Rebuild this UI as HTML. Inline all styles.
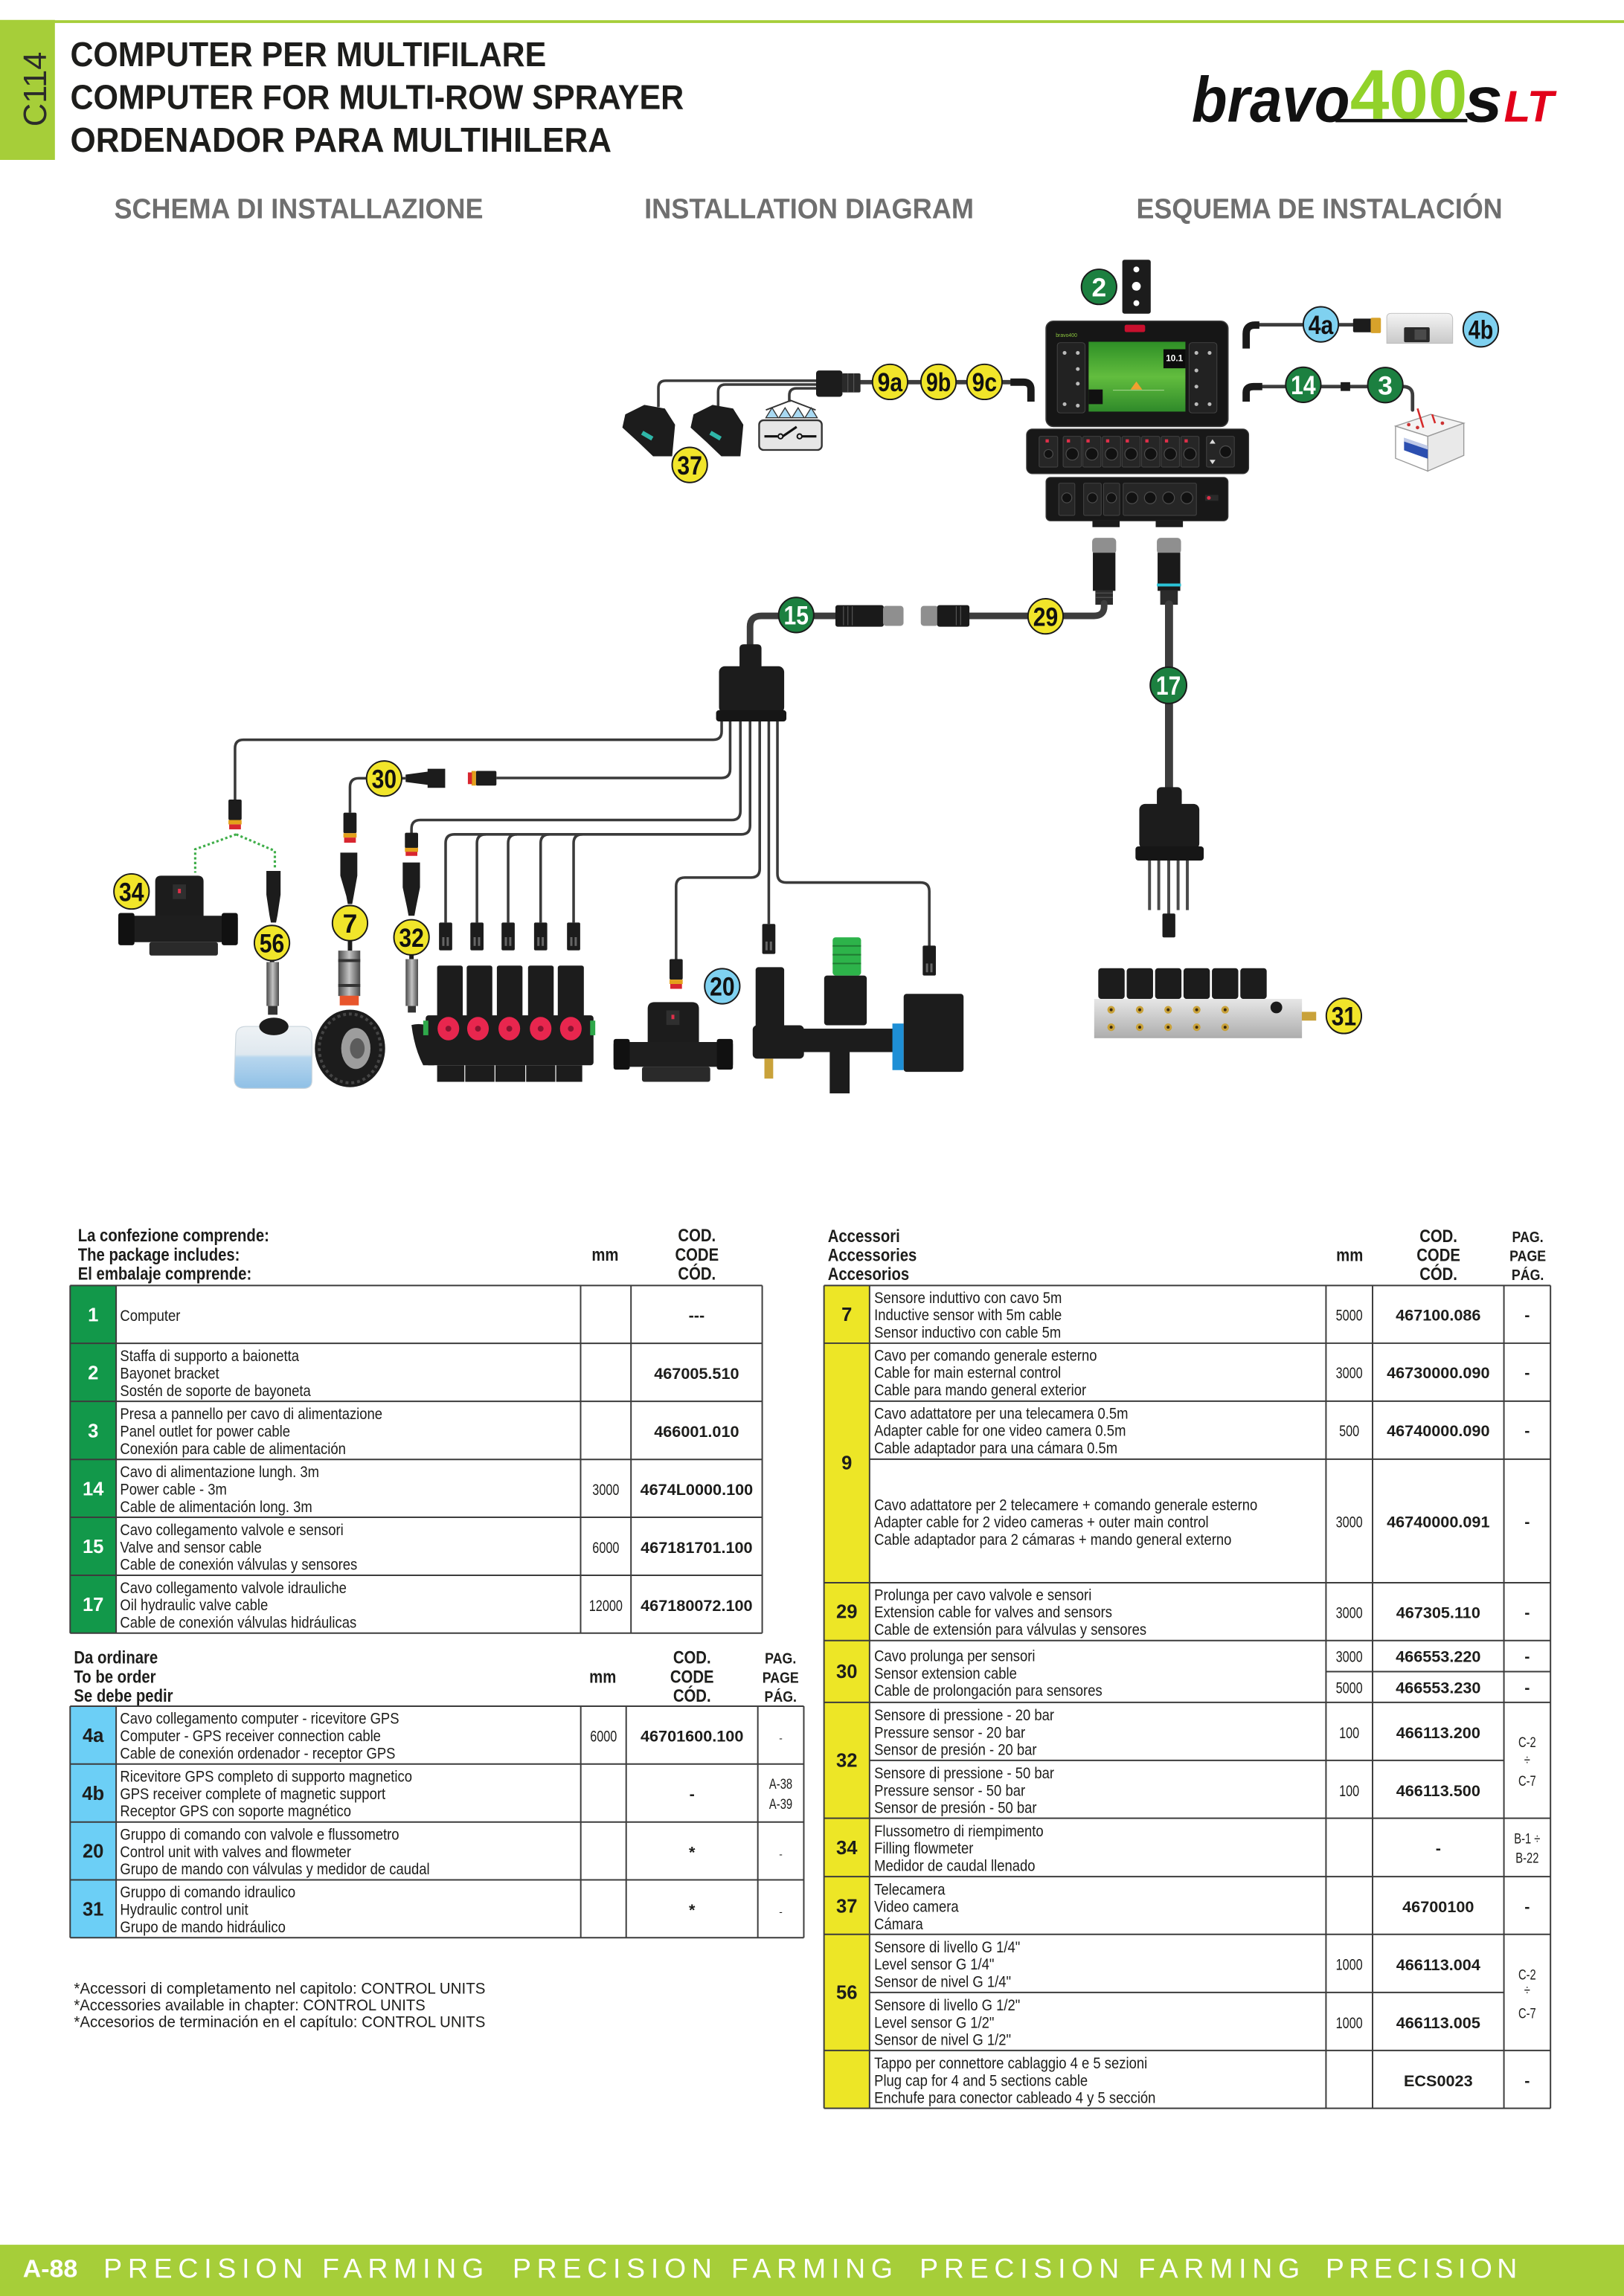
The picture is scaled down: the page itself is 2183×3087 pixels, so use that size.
<!DOCTYPE html>
<html><head><meta charset="utf-8">
<style>
html,body{margin:0;padding:0;background:#fff;}
svg{display:block;}
text{font-family:"Liberation Sans",Arial,sans-serif;}
.b{font-weight:bold;}
.ci{stroke:#1a1a1a;stroke-width:1;}
.y{fill:#f1e52a;}
.g{fill:#1c8040;}
.u{fill:#7fd1f0;}
.ct{font-weight:bold;font-size:18px;text-anchor:middle;}
.cab{fill:none;stroke:#3d3d3d;stroke-linecap:round;}
.w{fill:none;stroke:#3a3a3a;stroke-width:1.8;}
.blk{fill:#1c1c1c;}
.grid line{stroke:#3c3c3c;stroke-width:1;}
</style></head><body>
<svg width="2183" height="3087" viewBox="0 0 1109 1568" preserveAspectRatio="none" xmlns="http://www.w3.org/2000/svg">
<defs>
<linearGradient id="scr" x1="0" y1="0" x2="0" y2="1"><stop offset="0" stop-color="#2e8f26"/><stop offset=".5" stop-color="#62bd3e"/><stop offset="1" stop-color="#2f8a2a"/></linearGradient>
<linearGradient id="alu" x1="0" y1="0" x2="0" y2="1"><stop offset="0" stop-color="#e6e6e6"/><stop offset="1" stop-color="#adadad"/></linearGradient>
<linearGradient id="met" x1="0" y1="0" x2="1" y2="0"><stop offset="0" stop-color="#4a4a4a"/><stop offset=".5" stop-color="#c4c4c4"/><stop offset="1" stop-color="#4a4a4a"/></linearGradient>
<linearGradient id="gps" x1="0" y1="0" x2="0" y2="1"><stop offset="0" stop-color="#f4f4f4"/><stop offset="1" stop-color="#c9c9c9"/></linearGradient>
<linearGradient id="tank" x1="0" y1="0" x2="0" y2="1"><stop offset="0" stop-color="#eef2f5"/><stop offset=".45" stop-color="#dfe8ef"/><stop offset=".5" stop-color="#b7d6ee"/><stop offset="1" stop-color="#8fc0e6"/></linearGradient>
</defs>

<!-- ===== HEADER ===== -->
<rect x="0" y="13.6" width="37.5" height="95.6" fill="#a6ce39"/>
<rect x="37" y="13.8" width="1072" height="1.9" fill="#a6ce39"/>
<text transform="translate(31.6,86.4) rotate(-90)" font-size="22" fill="#2b2b2b" textLength="51" lengthAdjust="spacingAndGlyphs">C114</text>

<g class="b" fill="#1d1d1b" font-size="23.5">
<text x="48" y="45.3" textLength="325" lengthAdjust="spacingAndGlyphs">COMPUTER PER MULTIFILARE</text>
<text x="48" y="74.5" textLength="419" lengthAdjust="spacingAndGlyphs">COMPUTER FOR MULTI-ROW SPRAYER</text>
<text x="48" y="103.6" textLength="369.6" lengthAdjust="spacingAndGlyphs">ORDENADOR PARA MULTIHILERA</text>
</g>

<!-- logo -->
<g>
<text x="813.8" y="83" font-size="44" font-weight="bold" font-style="italic" fill="#111" textLength="108" lengthAdjust="spacingAndGlyphs">bravo</text>
<text x="922" y="81.3" font-size="48" font-weight="bold" fill="#92d22a" textLength="80" lengthAdjust="spacingAndGlyphs">400</text>
<rect x="912" y="81.2" width="90" height="2.3" fill="#111"/>
<text x="1000" y="83" font-size="44" font-weight="bold" font-style="italic" fill="#111" textLength="26" lengthAdjust="spacingAndGlyphs">s</text>
<text x="1027" y="83" font-size="30" font-weight="bold" font-style="italic" fill="#e2001a" textLength="34" lengthAdjust="spacingAndGlyphs">LT</text>
</g>

<g class="b" fill="#6f6f6f" font-size="19.5">
<text x="78" y="149" textLength="252" lengthAdjust="spacingAndGlyphs">SCHEMA DI INSTALLAZIONE</text>
<text x="440" y="149" textLength="225" lengthAdjust="spacingAndGlyphs">INSTALLATION DIAGRAM</text>
<text x="776" y="149" textLength="250" lengthAdjust="spacingAndGlyphs">ESQUEMA DE INSTALACIÓN</text>
</g>

<!-- ===== DIAGRAM ===== -->
<!-- bracket 2 -->
<rect x="766.4" y="177.4" width="19.4" height="36.8" rx="1.5" class="blk"/>
<circle cx="776" cy="184" r="2" fill="#fff"/><circle cx="776" cy="195.5" r="3" fill="#fff"/><circle cx="776" cy="207" r="2" fill="#fff"/>

<!-- display -->
<rect x="714.3" y="219.3" width="124.3" height="72" rx="5" fill="#161616" stroke="#3a3a3a" stroke-width=".8"/>
<rect x="743.4" y="233.4" width="66.1" height="47.7" fill="url(#scr)"/>
<rect x="768" y="221.8" width="14" height="5" rx="1.2" fill="#c8102e"/>
<text x="721" y="230" font-size="3.5" fill="#8cc63f">bravo400</text>
<rect x="722" y="234" width="19" height="48" rx="2" fill="#222" stroke="#444" stroke-width=".5"/>
<rect x="812" y="234" width="19" height="48" rx="2" fill="#222" stroke="#444" stroke-width=".5"/>
<g fill="#bbb"><circle cx="727" cy="241" r="1.3"/><circle cx="736" cy="241" r="1.3"/><circle cx="736" cy="252" r="1.3"/><circle cx="736" cy="262" r="1.3"/><circle cx="727" cy="276" r="1.3"/><circle cx="736" cy="277" r="1.3"/><circle cx="817" cy="241" r="1.3"/><circle cx="826" cy="241" r="1.3"/><circle cx="817" cy="253" r="1.3"/><circle cx="817" cy="264" r="1.3"/><circle cx="826" cy="276" r="1.3"/><circle cx="817" cy="276" r="1.3"/></g>
<rect x="794.5" y="238.5" width="15" height="13" fill="#0c0c0c"/>
<text x="802" y="246.5" font-size="6" fill="#fff" text-anchor="middle" font-weight="bold">10.1</text>
<rect x="743.4" y="266" width="9.6" height="10" fill="#111"/>
<polygon points="772,266 776,260.5 780,266" fill="#f0a030"/>
<line x1="760" y1="266.5" x2="795" y2="266.5" stroke="#b8e0a0" stroke-width=".4"/>
<!-- switch box -->
<rect x="701" y="293" width="151.7" height="30.5" rx="4" fill="#181818" stroke="#3a3a3a" stroke-width=".6"/>
<g fill="#262626" stroke="#454545" stroke-width=".5">
<rect x="709.6" y="298" width="12.7" height="21" rx="1"/>
<rect x="726" y="298" width="12.4" height="21" rx="1"/><rect x="739.4" y="298" width="12.4" height="21" rx="1"/><rect x="752.8" y="298" width="12.4" height="21" rx="1"/><rect x="766.2" y="298" width="12.4" height="21" rx="1"/><rect x="779.6" y="298" width="12.4" height="21" rx="1"/><rect x="793" y="298" width="12.4" height="21" rx="1"/><rect x="806.4" y="298" width="12.4" height="21" rx="1"/>
<rect x="823.9" y="298" width="19" height="21" rx="1"/>
</g>
<g fill="#e0304a"><rect x="714" y="300" width="2.2" height="2.2"/><rect x="728.5" y="300" width="2.2" height="2.2"/><rect x="741.9" y="300" width="2.2" height="2.2"/><rect x="755.3" y="300" width="2.2" height="2.2"/><rect x="768.7" y="300" width="2.2" height="2.2"/><rect x="782.1" y="300" width="2.2" height="2.2"/><rect x="795.5" y="300" width="2.2" height="2.2"/><rect x="808.9" y="300" width="2.2" height="2.2"/></g>
<g fill="#111" stroke="#4d4d4d" stroke-width=".6"><circle cx="716" cy="310" r="3"/><circle cx="732.2" cy="310" r="4.2"/><circle cx="745.6" cy="310" r="4.2"/><circle cx="759" cy="310" r="4.2"/><circle cx="772.4" cy="310" r="4.2"/><circle cx="785.8" cy="310" r="4.2"/><circle cx="799.2" cy="310" r="4.2"/><circle cx="812.6" cy="310" r="4.2"/><circle cx="837" cy="308.5" r="4"/></g>
<polygon points="826,303 828,300 830,303" fill="#ddd"/><polygon points="826,314 828,317 830,314" fill="#ddd"/>
<!-- lower box -->
<rect x="714.3" y="326" width="124.3" height="29.7" rx="3" fill="#181818" stroke="#3a3a3a" stroke-width=".6"/>
<g fill="#262626" stroke="#454545" stroke-width=".5"><rect x="723" y="330" width="11" height="22" rx="1"/><rect x="740" y="330" width="12" height="22" rx="1"/><rect x="753.6" y="330" width="11" height="22" rx="1"/><rect x="767" y="330" width="50" height="22" rx="1"/></g>
<g fill="#111" stroke="#4d4d4d" stroke-width=".6"><circle cx="728.5" cy="340" r="3.4"/><circle cx="746" cy="340" r="3.4"/><circle cx="759" cy="340" r="3.4"/><circle cx="773" cy="340" r="4"/><circle cx="785.5" cy="340" r="4"/><circle cx="798" cy="340" r="4"/><circle cx="810.5" cy="340" r="4"/></g>
<rect x="823" y="338" width="9" height="4" fill="#2a2a2a"/><circle cx="825.5" cy="340" r="1.3" fill="#e0304a"/>
<rect x="746" y="355.5" width="18.6" height="4.5" class="blk"/>
<rect x="789.2" y="355.5" width="18.6" height="4.5" class="blk"/>

<!-- connectors under display -->
<rect x="745.8" y="367.3" width="16.4" height="11" rx="2.5" fill="#8f8f8f"/>
<rect x="746.3" y="377.5" width="15.4" height="26" fill="#1a1a1a"/>
<rect x="748" y="403" width="12" height="10" fill="#2b2b2b"/>
<g stroke="#555" stroke-width=".6"><line x1="748" y1="405" x2="760" y2="405"/><line x1="748" y1="408" x2="760" y2="408"/></g>
<rect x="790" y="367.3" width="16.5" height="11" rx="2.5" fill="#8f8f8f"/>
<rect x="790.5" y="377.5" width="15.5" height="26" fill="#1a1a1a"/>
<rect x="790" y="398.5" width="16.5" height="2" fill="#2bc3d6"/>
<rect x="792.3" y="403" width="12" height="10" fill="#2b2b2b"/>

<!-- cable 29 / 15 -->
<path class="cab" stroke-width="4.5" d="M754,412 V414 Q754,420.6 747,420.6 H662"/>
<path class="cab" stroke-width="4.5" d="M571,420.6 H520 Q512.2,420.6 512.2,428 V443"/>
<!-- inline connectors -->
<rect x="628.8" y="413.8" width="12" height="13.6" rx="2" fill="#8f8f8f"/>
<rect x="640" y="413.3" width="22" height="14.7" rx="1.5" fill="#1a1a1a"/>
<g stroke="#555" stroke-width=".6"><line x1="653" y1="414" x2="653" y2="427"/><line x1="656" y1="414" x2="656" y2="427"/></g>
<rect x="570.5" y="413.3" width="33" height="14.7" rx="1.5" fill="#1a1a1a"/>
<g stroke="#555" stroke-width=".6"><line x1="576" y1="414" x2="576" y2="427"/><line x1="579" y1="414" x2="579" y2="427"/><line x1="582" y1="414" x2="582" y2="427"/></g>
<rect x="603" y="413.8" width="14" height="13.6" rx="2" fill="#8f8f8f"/>

<!-- splitter 15 -->
<path d="M505,443 Q505,440 508,440 H517 Q520,440 520,443 V457 H505 Z" class="blk"/>
<rect x="491" y="455" width="44.5" height="32" rx="4" class="blk"/>
<rect x="489" y="485" width="48" height="7.7" rx="2" fill="#161616"/>

<!-- wires from splitter 15 -->
<path class="w" d="M492.8,492.7 V499.5 Q492.8,505.2 487.1,505.2 H166.2 Q160.5,505.2 160.5,510.9 V546"/>
<path class="w" d="M498.6,492.7 V525.3 Q498.6,531.3 492.6,531.3 H339"/>
<path class="w" d="M251,531.5 H245 Q239,531.5 239,537.5 V555"/>
<path class="w" d="M505.6,492.7 V554 Q505.6,560 499.6,560 H287 Q281,560 281,566 V569"/>
<path class="w" d="M512.2,492.7 V563.8 Q512.2,569.8 506.2,569.8 H310.3 Q304.3,569.8 304.3,575.8 V630"/>
<path class="w" d="M331.7,569.8 Q325.7,569.8 325.7,575.8 V630"/>
<path class="w" d="M353,569.8 Q347,569.8 347,575.8 V630"/>
<path class="w" d="M375.2,569.8 Q369.2,569.8 369.2,575.8 V630"/>
<path class="w" d="M397.7,569.8 Q391.7,569.8 391.7,575.8 V630"/>
<path class="w" d="M518.8,492.7 V593.3 Q518.8,599.3 512.8,599.3 H467.7 Q461.7,599.3 461.7,605.3 V655"/>
<path class="w" d="M525,492.7 V631"/>
<path class="w" d="M530.9,492.7 V596.7 Q530.9,602.7 536.9,602.7 H628.6 Q634.6,602.7 634.6,608.7 V646"/>

<!-- small female connectors with band -->
<g>
<rect x="156" y="546" width="9" height="14" rx="1" class="blk"/><rect x="156" y="560" width="9" height="3" fill="#e3a01b"/><rect x="156.5" y="563" width="8" height="3.4" fill="#d8262f"/>
<rect x="234.5" y="555" width="9" height="14" rx="1" class="blk"/><rect x="234.5" y="569" width="9" height="3" fill="#e3a01b"/><rect x="235" y="572" width="8" height="3.5" fill="#d8262f"/>
<rect x="276.5" y="568.7" width="9" height="10.5" rx="1" class="blk"/><rect x="276.5" y="579" width="9" height="2.8" fill="#e3a01b"/><rect x="277" y="581.7" width="8" height="2.8" fill="#d8262f"/>
<rect x="457.2" y="655" width="9" height="14" rx="1" class="blk"/><rect x="457.2" y="669" width="9" height="3" fill="#e3a01b"/><rect x="457.7" y="672" width="8" height="3.3" fill="#d8262f"/>
<!-- 30 connectors -->
<rect x="325" y="526.5" width="14" height="10" rx="1" class="blk"/><rect x="322" y="526.5" width="3" height="10" fill="#e3a01b"/><rect x="319.5" y="527.5" width="2.8" height="8" fill="#d8262f"/>
<polygon points="304,525 292,525 292,527 277,529 277,534 292,536 292,538 304,538" class="blk"/>
<path class="w" d="M273,531.5 H277"/>
</g>
<!-- valve connectors -->
<g class="blk">
<rect x="299.8" y="630" width="9" height="19" rx="1"/><rect x="321.2" y="630" width="9" height="19" rx="1"/><rect x="342.5" y="630" width="9" height="19" rx="1"/><rect x="364.7" y="630" width="9" height="19" rx="1"/><rect x="387.2" y="630" width="9" height="19" rx="1"/>
<rect x="520.5" y="631" width="9" height="20.5" rx="1"/>
<rect x="630.1" y="645.8" width="9" height="20.4" rx="1"/>
</g>
<g fill="#666"><rect x="302" y="640" width="1.5" height="6"/><rect x="305" y="640" width="1.5" height="6"/><rect x="323.4" y="640" width="1.5" height="6"/><rect x="326.4" y="640" width="1.5" height="6"/><rect x="344.7" y="640" width="1.5" height="6"/><rect x="347.7" y="640" width="1.5" height="6"/><rect x="366.9" y="640" width="1.5" height="6"/><rect x="369.9" y="640" width="1.5" height="6"/><rect x="389.4" y="640" width="1.5" height="6"/><rect x="392.4" y="640" width="1.5" height="6"/><rect x="522.7" y="643" width="1.5" height="6"/><rect x="525.7" y="643" width="1.5" height="6"/><rect x="632.3" y="658" width="1.5" height="6"/><rect x="635.3" y="658" width="1.5" height="6"/></g>

<!-- sensor male connectors (tapered) -->
<polygon class="blk" points="232.4,582.3 244,582.3 244,598 241.5,612 240.5,617.4 237.5,617.4 236.5,612 232.4,598"/>
<polygon class="blk" points="275,589 286.8,589 286.8,606 284,620 283,625.4 279,625.4 278,620 275,606"/>
<polygon class="blk" points="181.9,594.8 191.6,594.8 191.6,611 189.5,625 188.5,630 185,630 184,625 181.9,611"/>

<!-- dotted green lines (34 / 56) -->
<path d="M161.3,569.8 L133.3,580 V596 M161.3,569.8 L187.7,581.1 V593.6" fill="none" stroke="#3fae49" stroke-width="1.6" stroke-dasharray="1.6 1.6"/>

<!-- sensor 7 body + wheel -->
<rect x="237.5" y="642" width="3" height="7.5" class="blk"/>
<rect x="231" y="649.2" width="15" height="31" fill="url(#met)"/>
<rect x="231" y="655" width="15" height="2" fill="#333"/><rect x="231" y="672" width="15" height="2" fill="#333"/>
<rect x="232" y="680" width="13" height="6.6" fill="#e8552b"/>
<ellipse cx="239" cy="716" rx="24" ry="26.5" fill="#1c1c1c"/>
<ellipse cx="239" cy="716" rx="21" ry="23.5" fill="none" stroke="#444" stroke-width="2" stroke-dasharray="2 2"/>
<ellipse cx="243" cy="716" rx="10" ry="14" fill="#9d9d9d"/>
<ellipse cx="244" cy="716" rx="5" ry="7" fill="#5c5c5c"/>

<!-- sensor 32 body -->
<rect x="279.5" y="650" width="3" height="6" class="blk"/>
<rect x="277" y="655" width="8.5" height="32" fill="url(#met)"/>
<rect x="278.5" y="687" width="5.5" height="4.5" fill="#333"/>

<!-- sensor 56 + tank -->
<rect x="184.3" y="653" width="3" height="5" class="blk"/>
<rect x="182" y="657" width="8.5" height="30" fill="url(#met)"/>
<rect x="183" y="687" width="6.5" height="6" fill="#333"/>
<path d="M161,708 Q161,701 168,701 H206 Q213,701 213,708 V738 Q213,743.3 207,743.3 H167 Q160,743.3 160,737 Z" fill="url(#tank)" stroke="#c9d4dc" stroke-width=".6"/>
<ellipse cx="187" cy="701" rx="10" ry="6" fill="#1c1c1c"/>

<!-- flowmeter 34 -->
<path d="M106,602 Q106,598 110,598 H135 Q139,598 139,602 V630 H106 Z" class="blk"/>
<rect x="118" y="604" width="9" height="10" fill="#2f2f2f"/><rect x="121.5" y="607" width="2" height="3" fill="#e0304a"/>
<rect x="80.8" y="625.4" width="81.6" height="18" rx="1.5" fill="#1e1e1e"/>
<rect x="80.8" y="623.5" width="11" height="22" rx="1.5" fill="#111"/>
<rect x="151.4" y="623.5" width="11" height="22" rx="1.5" fill="#111"/>
<rect x="102" y="643.4" width="46.8" height="9.2" rx="1.5" fill="#2a2a2a"/>

<!-- valve block (5 sections) -->
<g class="blk">
<rect x="298.5" y="659.4" width="17.5" height="36.3" rx="1.5"/><rect x="318.7" y="659.4" width="17.5" height="36.3" rx="1.5"/><rect x="339.3" y="659.4" width="17.5" height="36.3" rx="1.5"/><rect x="360.6" y="659.4" width="17.5" height="36.3" rx="1.5"/><rect x="380.9" y="659.4" width="17.8" height="36.3" rx="1.5"/>
<rect x="290.7" y="693.4" width="114.6" height="34.1" rx="2"/>
<rect x="298.5" y="727.5" width="99.1" height="11.3"/>
<path d="M281,700 Q288,698 296.5,702 V727.5 H289 Q283,716 281,700 Z"/>
</g>
<g stroke="#fff" stroke-width=".6"><line x1="317.4" y1="727.5" x2="317.4" y2="738.8"/><line x1="338" y1="727.5" x2="338" y2="738.8"/><line x1="359" y1="727.5" x2="359" y2="738.8"/><line x1="379.5" y1="727.5" x2="379.5" y2="738.8"/></g>
<rect x="289" y="697" width="3.5" height="10" fill="#2ea84a"/><rect x="403" y="697" width="3.5" height="10" fill="#2ea84a"/>
<g fill="#e8264e"><ellipse cx="306.2" cy="702.5" rx="7.4" ry="8"/><ellipse cx="326.4" cy="702.5" rx="7.4" ry="8"/><ellipse cx="347.8" cy="702.5" rx="7.4" ry="8"/><ellipse cx="369.2" cy="702.5" rx="7.4" ry="8"/><ellipse cx="389.8" cy="702.5" rx="7.4" ry="8"/></g>
<g fill="#8a1430"><circle cx="306.2" cy="702.5" r="2"/><circle cx="326.4" cy="702.5" r="2"/><circle cx="347.8" cy="702.5" r="2"/><circle cx="369.2" cy="702.5" r="2"/><circle cx="389.8" cy="702.5" r="2"/></g>

<!-- unit 20 -->
<path d="M442.3,689 Q442.3,684.4 447,684.4 H472.5 Q477.3,684.4 477.3,689 V712.7 H442.3 Z" class="blk"/>
<rect x="455" y="690" width="9" height="10" fill="#2f2f2f"/><rect x="458.5" y="693" width="2" height="3" fill="#e0304a"/>
<rect x="419" y="711.6" width="81.5" height="17" rx="1.5" fill="#1e1e1e"/>
<rect x="419" y="709.5" width="11" height="21" rx="1.5" fill="#111"/>
<rect x="489.5" y="709.5" width="11" height="21" rx="1.5" fill="#111"/>
<rect x="438.4" y="728.6" width="46.6" height="10.2" rx="1.5" fill="#2a2a2a"/>

<!-- big valve -->
<rect x="516" y="660.5" width="19.5" height="44" rx="2" class="blk"/>
<rect x="514" y="700.2" width="35" height="22.8" rx="3" class="blk"/>
<rect x="545.2" y="702.5" width="66.1" height="16" class="blk"/>
<rect x="562.8" y="666.2" width="29.1" height="34" rx="2" class="blk"/>
<rect x="568.6" y="640.1" width="19.4" height="26.1" rx="2" fill="#2db34a"/>
<g stroke="#1f7a32" stroke-width="1"><line x1="568.6" y1="646" x2="588" y2="646"/><line x1="568.6" y1="652" x2="588" y2="652"/><line x1="568.6" y1="658" x2="588" y2="658"/></g>
<rect x="566.6" y="718" width="13.6" height="28.7" class="blk"/>
<rect x="522" y="723" width="6" height="13.6" fill="#c9a23a"/>
<rect x="609.4" y="699" width="7.7" height="31.8" fill="#1e8fd6"/>
<rect x="617.1" y="678.7" width="40.9" height="53.3" rx="2" class="blk"/>

<!-- hydraulic block 31 -->
<g class="blk">
<rect x="750" y="661.2" width="18" height="21" rx="2"/><rect x="769.4" y="661.2" width="18" height="21" rx="2"/><rect x="788.8" y="661.2" width="18" height="21" rx="2"/><rect x="808.2" y="661.2" width="18" height="21" rx="2"/><rect x="827.6" y="661.2" width="18" height="21" rx="2"/><rect x="847" y="661.2" width="18" height="21" rx="2"/>
</g>
<rect x="747.2" y="682.2" width="141.9" height="26.8" fill="url(#alu)"/>
<g fill="#c9a23a"><circle cx="758.8" cy="689.6" r="2.6"/><circle cx="778.3" cy="689.6" r="2.6"/><circle cx="797.7" cy="689.6" r="2.6"/><circle cx="817.2" cy="689.6" r="2.6"/><circle cx="836.6" cy="689.6" r="2.6"/><circle cx="758.8" cy="701.5" r="2.6"/><circle cx="778.3" cy="701.5" r="2.6"/><circle cx="797.7" cy="701.5" r="2.6"/><circle cx="817.2" cy="701.5" r="2.6"/><circle cx="836.6" cy="701.5" r="2.6"/></g>
<g fill="#3a2a10"><circle cx="758.8" cy="689.6" r="1"/><circle cx="778.3" cy="689.6" r="1"/><circle cx="797.7" cy="689.6" r="1"/><circle cx="817.2" cy="689.6" r="1"/><circle cx="836.6" cy="689.6" r="1"/><circle cx="758.8" cy="701.5" r="1"/><circle cx="778.3" cy="701.5" r="1"/><circle cx="797.7" cy="701.5" r="1"/><circle cx="817.2" cy="701.5" r="1"/><circle cx="836.6" cy="701.5" r="1"/></g>
<circle cx="871.6" cy="688" r="4" fill="#1a1a1a"/>
<rect x="889" y="691" width="9.8" height="6" fill="#c9a23a"/>

<!-- cable 17 + splitter -->
<path class="cab" stroke-width="5.5" d="M798.3,412.8 V540"/>
<rect x="790" y="537.6" width="17" height="14" rx="3" class="blk"/>
<rect x="778" y="549" width="41" height="31" rx="4" class="blk"/>
<rect x="775.4" y="578" width="46.6" height="9.7" rx="2" fill="#161616"/>
<g stroke="#4a4a4a" stroke-width="2"><line x1="785" y1="587.7" x2="785" y2="621.5"/><line x1="791.3" y1="587.7" x2="791.3" y2="621.5"/><line x1="798.1" y1="587.7" x2="798.1" y2="624"/><line x1="804.5" y1="587.7" x2="804.5" y2="621.5"/><line x1="810.8" y1="587.7" x2="810.8" y2="621.5"/></g>
<rect x="793.8" y="623.9" width="8.8" height="16.3" rx="1" class="blk"/>

<!-- left top: cameras, switch, 9 cable -->
<path class="w" stroke-width="2" d="M558,260 H454.6 Q449.6,260 449.6,265 V278"/>
<path class="w" stroke-width="2" d="M558,262.6 H495.4 Q490.4,262.6 490.4,267.6 V278"/>
<path class="w" stroke-width="2" d="M558,265.2 H544 Q539,265.2 539,270 V274.5"/>
<path class="cab" stroke-width="3" d="M586,261 H692"/>
<rect x="557.3" y="253" width="18" height="18" rx="2" class="blk"/>
<rect x="575" y="255" width="12.6" height="13" rx="1" fill="#2a2a2a"/>
<g stroke="#555" stroke-width=".6"><line x1="579" y1="255" x2="579" y2="268"/><line x1="583" y1="255" x2="583" y2="268"/></g>
<path d="M690,261 H699 Q704,261 704,266 V274.3" fill="none" stroke="#1a1a1a" stroke-width="5"/>
<!-- camera 1 & 2 -->
<g class="blk">
<polygon points="427,283 440,276.5 454,279 461,290 459,311.6 446,311.6 436,302 425,292"/>
<polygon points="473.6,283 486.6,276.5 500.6,279 507.6,290 505.6,311.6 492.6,311.6 482.6,302 471.6,292"/>
</g>
<rect x="438" y="296" width="8" height="3" fill="#2fb6a8" transform="rotate(30 442 297.5)"/>
<rect x="484.6" y="296" width="8" height="3" fill="#2fb6a8" transform="rotate(30 488.6 297.5)"/>
<!-- sprayer icon -->
<path d="M523,280 L540,273.5 L557,280" fill="none" stroke="#333" stroke-width="1"/>
<g fill="#a8d9f2" stroke="#333" stroke-width=".7"><polygon points="523,285.3 527.2,278.5 531.4,285.3"/><polygon points="531.9,285.3 536.1,278.5 540.3,285.3"/><polygon points="540.8,285.3 545,278.5 549.2,285.3"/><polygon points="549.7,285.3 553.9,278.5 558.1,285.3"/></g>
<rect x="518.4" y="287" width="42.8" height="20.3" rx="3" fill="#e6e6e6" stroke="#333" stroke-width="1.2"/>
<path d="M522,298 H531 M534.5,298 L544,291.5 M547.5,298 H557.5" stroke="#111" stroke-width="1.6" fill="none"/>
<circle cx="533" cy="298" r="1.6" fill="none" stroke="#111" stroke-width="1"/>
<circle cx="546" cy="298" r="1.6" fill="none" stroke="#111" stroke-width="1"/>

<!-- right top: 4a / 4b / 14 / 3 -->
<path class="cab" stroke-width="2.4" d="M858,221.8 H924"/>
<path d="M851,238 V228 Q851,222 857,222 H860" fill="none" stroke="#1a1a1a" stroke-width="5"/>
<rect x="924" y="217.6" width="13" height="9.3" rx="1" class="blk"/>
<rect x="936" y="217" width="7" height="10.5" rx="1" fill="#d7a22b"/>
<path d="M950,214 H988 Q992,214 992,218 V234.5 H947 V217 Q947,214 950,214 Z" fill="url(#gps)" stroke="#bdbdbd" stroke-width=".5"/>
<rect x="958.8" y="223.5" width="17.5" height="10.2" rx="1" fill="#2a2a2a"/>
<rect x="966" y="225" width="8" height="7" fill="#4a4a4a"/>
<path class="cab" stroke-width="2.4" d="M860,264 H958 Q964.6,264 964.6,270 V280"/>
<path d="M851,274.3 V268 Q851,264 856,264 H862" fill="none" stroke="#1a1a1a" stroke-width="5"/>
<rect x="915.5" y="261" width="6.5" height="6" class="blk"/>
<!-- battery -->
<polygon points="953,291 977,283 999.6,289 975,298" fill="#f3f3f3" stroke="#9a9a9a" stroke-width=".7"/>
<polygon points="953,291 975,298 975,321.7 953,313" fill="#ffffff" stroke="#9a9a9a" stroke-width=".7"/>
<polygon points="975,298 999.6,289 999.6,311 975,321.7" fill="#e9e9e9" stroke="#9a9a9a" stroke-width=".7"/>
<polygon points="958.8,299 975,304.5 975,313.3 958.8,307.5" fill="#2c4fb0"/>
<polygon points="958.8,299 975,304.5 975,307 958.8,301.5" fill="#fff" opacity=".7"/>
<path d="M968,279 L972,292 M978,283 L980,289" stroke="#d62a2a" stroke-width="1.3" fill="none"/>
<g fill="#c33"><circle cx="962" cy="290" r="1.2"/><circle cx="968" cy="292" r="1.2"/><circle cx="985" cy="289" r="1.2"/></g>

<!-- ===== CALLOUT CIRCLES ===== -->
<g>
<circle class="ci g" cx="750.5" cy="195.9" r="12"/><text class="ct" x="750.5" y="202.4" fill="#fff">2</text>
<circle class="ci u" cx="902" cy="221.5" r="12"/><text class="ct" x="902" y="228" fill="#111" textLength="17" lengthAdjust="spacingAndGlyphs">4a</text>
<circle class="ci u" cx="1011.2" cy="224.9" r="12"/><text class="ct" x="1011.2" y="231.4" fill="#111" textLength="17" lengthAdjust="spacingAndGlyphs">4b</text>
<circle class="ci g" cx="890" cy="262.8" r="12"/><text class="ct" x="890" y="269.3" fill="#fff" textLength="17" lengthAdjust="spacingAndGlyphs">14</text>
<circle class="ci g" cx="946" cy="263" r="12"/><text class="ct" x="946" y="269.5" fill="#fff">3</text>
<circle class="ci y" cx="607.8" cy="260.8" r="12"/><text class="ct" x="607.8" y="267.3" fill="#111" textLength="17" lengthAdjust="spacingAndGlyphs">9a</text>
<circle class="ci y" cx="640.9" cy="260.8" r="12"/><text class="ct" x="640.9" y="267.3" fill="#111" textLength="17" lengthAdjust="spacingAndGlyphs">9b</text>
<circle class="ci y" cx="672.3" cy="260.8" r="12"/><text class="ct" x="672.3" y="267.3" fill="#111" textLength="17" lengthAdjust="spacingAndGlyphs">9c</text>
<circle class="ci y" cx="471" cy="317.5" r="12"/><text class="ct" x="471" y="324" fill="#111" textLength="17" lengthAdjust="spacingAndGlyphs">37</text>
<circle class="ci g" cx="543.7" cy="420" r="12"/><text class="ct" x="543.7" y="426.5" fill="#fff" textLength="17" lengthAdjust="spacingAndGlyphs">15</text>
<circle class="ci y" cx="714" cy="420.9" r="12"/><text class="ct" x="714" y="427.4" fill="#111" textLength="17" lengthAdjust="spacingAndGlyphs">29</text>
<circle class="ci g" cx="797.9" cy="468" r="12.4"/><text class="ct" x="797.9" y="474.5" fill="#fff" textLength="17" lengthAdjust="spacingAndGlyphs">17</text>
<circle class="ci y" cx="262.3" cy="531.7" r="12"/><text class="ct" x="262.3" y="538.2" fill="#111" textLength="17" lengthAdjust="spacingAndGlyphs">30</text>
<circle class="ci y" cx="89.8" cy="608.8" r="12"/><text class="ct" x="89.8" y="615.3" fill="#111" textLength="17" lengthAdjust="spacingAndGlyphs">34</text>
<circle class="ci y" cx="185.7" cy="644" r="12"/><text class="ct" x="185.7" y="650.5" fill="#111" textLength="17" lengthAdjust="spacingAndGlyphs">56</text>
<circle class="ci y" cx="239" cy="630.4" r="12"/><text class="ct" x="239" y="636.9" fill="#111">7</text>
<circle class="ci y" cx="281" cy="640.1" r="12"/><text class="ct" x="281" y="646.6" fill="#111" textLength="17" lengthAdjust="spacingAndGlyphs">32</text>
<circle class="ci u" cx="493.2" cy="673.5" r="12"/><text class="ct" x="493.2" y="680" fill="#111" textLength="17" lengthAdjust="spacingAndGlyphs">20</text>
<circle class="ci y" cx="917.7" cy="693.8" r="12"/><text class="ct" x="917.7" y="700.3" fill="#111" textLength="17" lengthAdjust="spacingAndGlyphs">31</text>
</g>

<!-- ===== TABLE BACKGROUNDS ===== -->
<rect x="47.9" y="877.9" width="31.4" height="237.4" fill="#12984a"/>
<rect x="47.9" y="1165.2" width="31.4" height="158.1" fill="#6ccff6"/>
<rect x="562.7" y="877.9" width="31.1" height="561.9" fill="#ede626"/>

<!-- ===== GRIDS ===== -->
<g class="grid">
<!-- left table 1 -->
<line x1="47.9" y1="877.9" x2="520.5" y2="877.9"/><line x1="47.9" y1="917.4" x2="520.5" y2="917.4"/><line x1="47.9" y1="957" x2="520.5" y2="957"/><line x1="47.9" y1="996.7" x2="520.5" y2="996.7"/><line x1="47.9" y1="1036.2" x2="520.5" y2="1036.2"/><line x1="47.9" y1="1075.8" x2="520.5" y2="1075.8"/><line x1="47.9" y1="1115.3" x2="520.5" y2="1115.3"/>
<line x1="47.9" y1="877.9" x2="47.9" y2="1115.3"/><line x1="79.3" y1="877.9" x2="79.3" y2="1115.3"/><line x1="396.5" y1="877.9" x2="396.5" y2="1115.3"/><line x1="430.9" y1="877.9" x2="430.9" y2="1115.3"/><line x1="520.5" y1="877.9" x2="520.5" y2="1115.3"/>
<!-- left table 2 -->
<line x1="47.9" y1="1165.2" x2="548.9" y2="1165.2"/><line x1="47.9" y1="1204.7" x2="548.9" y2="1204.7"/><line x1="47.9" y1="1244.3" x2="548.9" y2="1244.3"/><line x1="47.9" y1="1283.8" x2="548.9" y2="1283.8"/><line x1="47.9" y1="1323.3" x2="548.9" y2="1323.3"/>
<line x1="47.9" y1="1165.2" x2="47.9" y2="1323.3"/><line x1="79.3" y1="1165.2" x2="79.3" y2="1323.3"/><line x1="396.6" y1="1165.2" x2="396.6" y2="1323.3"/><line x1="427.6" y1="1165.2" x2="427.6" y2="1323.3"/><line x1="517.5" y1="1165.2" x2="517.5" y2="1323.3"/><line x1="548.9" y1="1165.2" x2="548.9" y2="1323.3"/>
<!-- right table -->
<line x1="562.7" y1="877.9" x2="1058.8" y2="877.9"/><line x1="562.7" y1="917.3" x2="1058.8" y2="917.3"/><line x1="562.7" y1="1080.9" x2="1058.8" y2="1080.9"/><line x1="562.7" y1="1120.4" x2="1058.8" y2="1120.4"/><line x1="562.7" y1="1162.6" x2="1058.8" y2="1162.6"/><line x1="562.7" y1="1241.7" x2="1058.8" y2="1241.7"/><line x1="562.7" y1="1281.6" x2="1058.8" y2="1281.6"/><line x1="562.7" y1="1321" x2="1058.8" y2="1321"/><line x1="562.7" y1="1400.3" x2="1058.8" y2="1400.3"/><line x1="562.7" y1="1439.8" x2="1058.8" y2="1439.8"/>
<line x1="593.8" y1="956.9" x2="1058.8" y2="956.9"/><line x1="593.8" y1="996.5" x2="1058.8" y2="996.5"/>
<line x1="593.8" y1="1202.2" x2="1027" y2="1202.2"/><line x1="593.8" y1="1360.7" x2="1027" y2="1360.7"/>
<line x1="905.5" y1="1141.6" x2="1058.8" y2="1141.6"/>
<line x1="562.7" y1="877.9" x2="562.7" y2="1439.8"/><line x1="593.8" y1="877.9" x2="593.8" y2="1439.8"/><line x1="905.5" y1="877.9" x2="905.5" y2="1439.8"/><line x1="937.3" y1="877.9" x2="937.3" y2="1439.8"/><line x1="1027" y1="877.9" x2="1027" y2="1439.8"/><line x1="1058.8" y1="877.9" x2="1058.8" y2="1439.8"/>
</g>

<!-- ===== TABLE HEADERS (condensed bold) ===== -->
<g transform="scale(0.86 1)" class="b" font-size="12" fill="#1d1d1b">
<text x="61.86" y="847.8">La confezione comprende:</text>
<text x="61.86" y="861">The package includes:</text>
<text x="61.86" y="873.8">El embalaje comprende:</text>
<text x="480.5" y="861" text-anchor="middle">mm</text>
<text x="553.4" y="847.8" text-anchor="middle">COD.</text>
<text x="553.4" y="861" text-anchor="middle">CODE</text>
<text x="553.4" y="873.8" text-anchor="middle">CÓD.</text>

<text x="58.72" y="1136">Da ordinare</text>
<text x="58.72" y="1149.1">To be order</text>
<text x="58.72" y="1162.2">Se debe pedir</text>
<text x="478.6" y="1149.1" text-anchor="middle">mm</text>
<text x="549.5" y="1136" text-anchor="middle">COD.</text>
<text x="549.5" y="1149.1" text-anchor="middle">CODE</text>
<text x="549.5" y="1162.2" text-anchor="middle">CÓD.</text>
<text x="619.8" y="1136" text-anchor="middle" font-size="10.5">PAG.</text>
<text x="619.8" y="1149.1" text-anchor="middle" font-size="10.5">PAGE</text>
<text x="619.8" y="1162.2" text-anchor="middle" font-size="10.5">PÁG.</text>

<text x="657.3" y="848.2">Accessori</text>
<text x="657.3" y="861.3">Accessories</text>
<text x="657.3" y="874.1">Accesorios</text>
<text x="1071.7" y="861.3" text-anchor="middle">mm</text>
<text x="1142.2" y="848.2" text-anchor="middle">COD.</text>
<text x="1142.2" y="861.3" text-anchor="middle">CODE</text>
<text x="1142.2" y="874.1" text-anchor="middle">CÓD.</text>
<text x="1213.1" y="848.2" text-anchor="middle" font-size="10.5">PAG.</text>
<text x="1213.1" y="861.3" text-anchor="middle" font-size="10.5">PAGE</text>
<text x="1213.1" y="874.1" text-anchor="middle" font-size="10.5">PÁG.</text>
</g>

<!-- ===== BODY TEXT (condensed) ===== -->
<g transform="scale(0.86 1)" font-size="10.9" fill="#1d1d1b">
<text x="95.35" y="902.2">Computer</text>
<text x="95.35" y="929.5">Staffa di supporto a baionetta</text>
<text x="95.35" y="941.4">Bayonet bracket</text>
<text x="95.35" y="953.3">Sostén de soporte de bayoneta</text>
<text x="95.35" y="969.1">Presa a pannello per cavo di alimentazione</text>
<text x="95.35" y="981">Panel outlet for power cable</text>
<text x="95.35" y="992.9">Conexión para cable de alimentación</text>
<text x="95.35" y="1008.8">Cavo di alimentazione lungh. 3m</text>
<text x="95.35" y="1020.7">Power cable - 3m</text>
<text x="95.35" y="1032.6">Cable de alimentación long. 3m</text>
<text x="95.35" y="1048.3">Cavo collegamento valvole e sensori</text>
<text x="95.35" y="1060.2">Valve and sensor cable</text>
<text x="95.35" y="1072.1">Cable de conexión válvulas y sensores</text>
<text x="95.35" y="1087.9">Cavo collegamento valvole idrauliche</text>
<text x="95.35" y="1099.8">Oil hydraulic valve cable</text>
<text x="95.35" y="1111.7">Cable de conexión válvulas hidráulicas</text>

<text x="95.35" y="1177.2">Cavo collegamento computer - ricevitore GPS</text>
<text x="95.35" y="1189.1">Computer - GPS receiver connection cable</text>
<text x="95.35" y="1201">Cable de conexión ordenador - receptor GPS</text>
<text x="95.35" y="1216.7">Ricevitore GPS completo di supporto magnetico</text>
<text x="95.35" y="1228.6">GPS receiver complete of magnetic support</text>
<text x="95.35" y="1240.5">Receptor GPS con soporte magnético</text>
<text x="95.35" y="1256.3">Gruppo di comando con valvole e flussometro</text>
<text x="95.35" y="1268.2">Control unit with valves and flowmeter</text>
<text x="95.35" y="1280.1">Grupo de mando con válvulas y medidor de caudal</text>
<text x="95.35" y="1295.8">Gruppo di comando idraulico</text>
<text x="95.35" y="1307.7">Hydraulic control unit</text>
<text x="95.35" y="1319.6">Grupo de mando hidráulico</text>

<text x="58.72" y="1361.6" textLength="326.7" lengthAdjust="spacingAndGlyphs">*Accessori di completamento nel capitolo: CONTROL UNITS</text>
<text x="58.72" y="1373" textLength="279" lengthAdjust="spacingAndGlyphs">*Accessories available in chapter: CONTROL UNITS</text>
<text x="58.72" y="1384.4" textLength="326.7" lengthAdjust="spacingAndGlyphs">*Accesorios de terminación en el capítulo: CONTROL UNITS</text>

<text x="694.19" y="889.8">Sensore induttivo con cavo 5m</text>
<text x="694.19" y="901.6">Inductive sensor with 5m cable</text>
<text x="694.19" y="913.5">Sensor inductivo con cable 5m</text>
<text x="694.19" y="929.2">Cavo per comando generale esterno</text>
<text x="694.19" y="941">Cable for main esternal control</text>
<text x="694.19" y="952.9">Cable para mando general exterior</text>
<text x="694.19" y="968.8">Cavo adattatore per una telecamera 0.5m</text>
<text x="694.19" y="980.6">Adapter cable for one video camera 0.5m</text>
<text x="694.19" y="992.5">Cable adaptador para una cámara 0.5m</text>
<text x="694.19" y="1031.3">Cavo adattatore per 2 telecamere + comando generale esterno</text>
<text x="694.19" y="1043.1">Adapter cable for 2 video cameras + outer main control</text>
<text x="694.19" y="1054.9">Cable adaptador para 2 cámaras + mando general externo</text>
<text x="694.19" y="1092.8">Prolunga per cavo valvole e sensori</text>
<text x="694.19" y="1104.6">Extension cable for valves and sensors</text>
<text x="694.19" y="1116.5">Cable de extensión para válvulas y sensores</text>
<text x="694.19" y="1134.5">Cavo prolunga per sensori</text>
<text x="694.19" y="1146.3">Sensor extension cable</text>
<text x="694.19" y="1158">Cable de prolongación para sensores</text>
<text x="694.19" y="1174.9">Sensore di pressione - 20 bar</text>
<text x="694.19" y="1186.7">Pressure sensor - 20 bar</text>
<text x="694.19" y="1198.6">Sensor de presión - 20 bar</text>
<text x="694.19" y="1214.5">Sensore di pressione - 50 bar</text>
<text x="694.19" y="1226.3">Pressure sensor - 50 bar</text>
<text x="694.19" y="1238.2">Sensor de presión - 50 bar</text>
<text x="694.19" y="1254">Flussometro di riempimento</text>
<text x="694.19" y="1265.8">Filling flowmeter</text>
<text x="694.19" y="1277.7">Medidor de caudal llenado</text>
<text x="694.19" y="1293.9">Telecamera</text>
<text x="694.19" y="1305.7">Video camera</text>
<text x="694.19" y="1317.6">Cámara</text>
<text x="694.19" y="1333.3">Sensore di livello G 1/4"</text>
<text x="694.19" y="1345.1">Level sensor G 1/4"</text>
<text x="694.19" y="1357">Sensor de nivel G 1/4"</text>
<text x="694.19" y="1373">Sensore di livello G 1/2"</text>
<text x="694.19" y="1384.8">Level sensor G 1/2"</text>
<text x="694.19" y="1396.7">Sensor de nivel G 1/2"</text>
<text x="694.19" y="1412.6">Tappo per connettore cablaggio 4 e 5 sezioni</text>
<text x="694.19" y="1424.4">Plug cap for 4 and 5 sections cable</text>
<text x="694.19" y="1436.3">Enchufe para conector cableado 4 y 5 sección</text>
</g>

<!-- mm + page refs (more condensed) -->
<g transform="scale(0.75 1)" font-size="11" fill="#1d1d1b" text-anchor="middle">
<text x="551.6" y="1021">3000</text>
<text x="551.6" y="1060.5">6000</text>
<text x="551.6" y="1100.1">12000</text>
<text x="549.5" y="1189.4">6000</text>
<text x="1228.5" y="901.9">5000</text>
<text x="1228.5" y="941.3">3000</text>
<text x="1228.5" y="980.9">500</text>
<text x="1228.5" y="1043.1">3000</text>
<text x="1228.5" y="1104.9">3000</text>
<text x="1228.5" y="1135.1">3000</text>
<text x="1228.5" y="1156.4">5000</text>
<text x="1228.5" y="1187">100</text>
<text x="1228.5" y="1226.6">100</text>
<text x="1228.5" y="1345.4">1000</text>
<text x="1228.5" y="1385.1">1000</text>
<g font-size="10">
<text x="710.9" y="1221.7">A-38</text>
<text x="710.9" y="1235.2">A-39</text>
<text x="1390.5" y="1193.2">C-2</text>
<text x="1390.5" y="1205">÷</text>
<text x="1390.5" y="1219.5">C-7</text>
<text x="1390.5" y="1259">B-1 ÷</text>
<text x="1390.5" y="1272.2">B-22</text>
<text x="1390.5" y="1352">C-2</text>
<text x="1390.5" y="1362.4">÷</text>
<text x="1390.5" y="1378.4">C-7</text>
</g>
</g>

<!-- codes -->
<g class="b" font-size="11" fill="#1d1d1b" text-anchor="middle">
<text x="475.7" y="902.2">---</text>
<text x="475.7" y="941.7">467005.510</text>
<text x="475.7" y="981.3">466001.010</text>
<text x="475.7" y="1021">4674L0000.100</text>
<text x="475.7" y="1060.5">467181701.100</text>
<text x="475.7" y="1100.1">467180072.100</text>
<text x="472.55" y="1189.4">46701600.100</text>
<text x="472.55" y="1228.9">-</text>
<text x="472.55" y="1268.5">*</text>
<text x="472.55" y="1308">*</text>
<text x="982.15" y="901.9">467100.086</text>
<text x="982.15" y="941.3">46730000.090</text>
<text x="982.15" y="980.9">46740000.090</text>
<text x="982.15" y="1043.1">46740000.091</text>
<text x="982.15" y="1104.9">467305.110</text>
<text x="982.15" y="1135.1">466553.220</text>
<text x="982.15" y="1156.4">466553.230</text>
<text x="982.15" y="1187">466113.200</text>
<text x="982.15" y="1226.6">466113.500</text>
<text x="982.15" y="1266">-</text>
<text x="982.15" y="1306">46700100</text>
<text x="982.15" y="1345.4">466113.004</text>
<text x="982.15" y="1385.1">466113.005</text>
<text x="982.15" y="1424.7">ECS0023</text>
<text x="1042.9" y="901.9">-</text>
<text x="1042.9" y="941.3">-</text>
<text x="1042.9" y="980.9">-</text>
<text x="1042.9" y="1043.1">-</text>
<text x="1042.9" y="1104.9">-</text>
<text x="1042.9" y="1135.1">-</text>
<text x="1042.9" y="1156.4">-</text>
<text x="1042.9" y="1306">-</text>
<text x="1042.9" y="1424.7">-</text>
</g>
<g font-size="7" fill="#1d1d1b" text-anchor="middle">
<text x="533.2" y="1189.4">-</text>
<text x="533.2" y="1268.5">-</text>
<text x="533.2" y="1308">-</text>
</g>

<!-- number columns -->
<g class="b" font-size="13" text-anchor="middle">
<g fill="#fff">
<text x="63.6" y="902.4">1</text>
<text x="63.6" y="942">2</text>
<text x="63.6" y="981.5">3</text>
<text x="63.6" y="1021.2">14</text>
<text x="63.6" y="1060.7">15</text>
<text x="63.6" y="1100.3">17</text>
</g>
<g fill="#1d1d1b">
<text x="63.6" y="1189.6">4a</text>
<text x="63.6" y="1229.1">4b</text>
<text x="63.6" y="1268.7">20</text>
<text x="63.6" y="1308.2">31</text>
<text x="578.25" y="902">7</text>
<text x="578.25" y="1003.5">9</text>
<text x="578.25" y="1105">29</text>
<text x="578.25" y="1146">30</text>
<text x="578.25" y="1206.7">32</text>
<text x="578.25" y="1266.3">34</text>
<text x="578.25" y="1306.2">37</text>
<text x="578.25" y="1365.2">56</text>
</g>
</g>

<!-- ===== FOOTER ===== -->
<rect x="0" y="1533" width="1109" height="35" fill="#a6ce39"/>
<text x="15.6" y="1555" font-size="17" font-weight="bold" fill="#fff" textLength="37.4" lengthAdjust="spacingAndGlyphs">A-88</text>
<g font-size="19" fill="#fff">
<text x="70.7" y="1555.5" textLength="259.6" lengthAdjust="spacing">PRECISION FARMING</text>
<text x="350" y="1555.5" textLength="259.6" lengthAdjust="spacing">PRECISION FARMING</text>
<text x="628" y="1555.5" textLength="259.6" lengthAdjust="spacing">PRECISION FARMING</text>
<text x="905.2" y="1555.5" textLength="130.8" lengthAdjust="spacing">PRECISION</text>
</g>
</svg>
</body></html>
